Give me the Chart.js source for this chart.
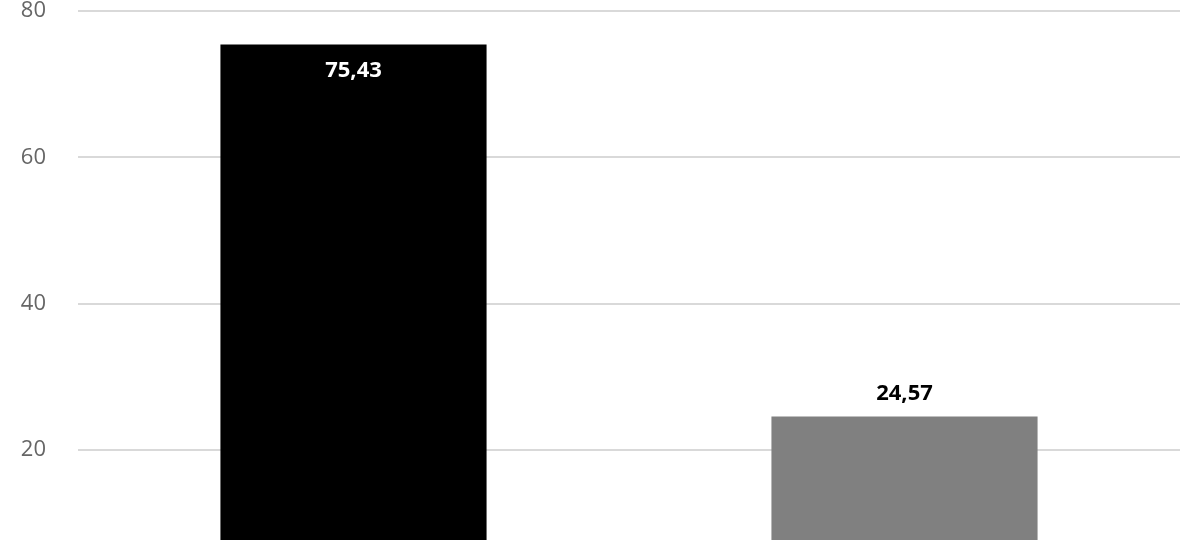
<!DOCTYPE html>
<html>
<head>
<meta charset="utf-8">
<script src="https://cdn.jsdelivr.net/npm/chart.js@4/dist/chart.umd.min.js"></script>
<style>
  html, body { margin: 0; padding: 0; background: #fff; }
  #wrap { width: 1200px; height: 540px; }
</style>
</head>
<body>
<div id="wrap"><canvas id="grafico"></canvas></div>
<script>
// categorias (el eje x queda fuera del recorte)
const categorias = ['', ''];
const valores = [75.43, 24.57];
const colores = ['#000000', '#808080'];
const coloresEtiqueta = ['#ffffff', '#000000'];
const marcasEje = [20, 40, 60, 80];

// etiquetas de los valores con coma decimal
const etiquetasValor = {
  id: 'etiquetasValor',
  afterDatasetsDraw(chart) {
    const ctx = chart.ctx;
    const meta = chart.getDatasetMeta(0);
    ctx.save();
    ctx.font = 'bold 22px "Open Sans"';
    ctx.textAlign = 'center';
    ctx.textBaseline = 'middle';
    meta.data.forEach((bar, i) => {
      const texto = valores[i].toFixed(2).replace('.', ',');
      ctx.fillStyle = coloresEtiqueta[i];
      // la barra grande lleva la etiqueta dentro, la pequeña encima
      const y = i === 0 ? bar.y + 26 : bar.y - 23;
      ctx.fillText(texto, bar.x, y);
    });
    ctx.restore();
  },
};

new Chart(document.getElementById('grafico'), {
  type: 'bar',
  data: {
    labels: categorias,
    datasets: [
      {
        data: valores,
        backgroundColor: colores,
        categoryPercentage: 1,
        barPercentage: 0.483,
      },
    ],
  },
  options: {
    responsive: true,
    maintainAspectRatio: false,
    animation: false,
    layout: { padding: { top: 11, right: 20, bottom: 0, left: 0 } },
    plugins: {
      legend: { display: false },
      tooltip: { enabled: false },
    },
    scales: {
      x: { display: false },
      y: {
        min: 7.7,
        max: 80,
        afterBuildTicks: (eje) => {
          eje.ticks = marcasEje.map((v) => ({ value: v }));
        },
        afterFit: (eje) => {
          eje.width = 78;
          eje.paddingTop = 0;
          eje.paddingBottom = 0;
        },
        border: { display: false },
        grid: { color: '#d9d9d9', lineWidth: 2, drawTicks: false },
        ticks: {
          padding: 32,
          color: '#666666',
          font: { family: 'Open Sans', size: 22 },
        },
      },
    },
  },
  plugins: [etiquetasValor],
});
</script>
</body>
</html>
